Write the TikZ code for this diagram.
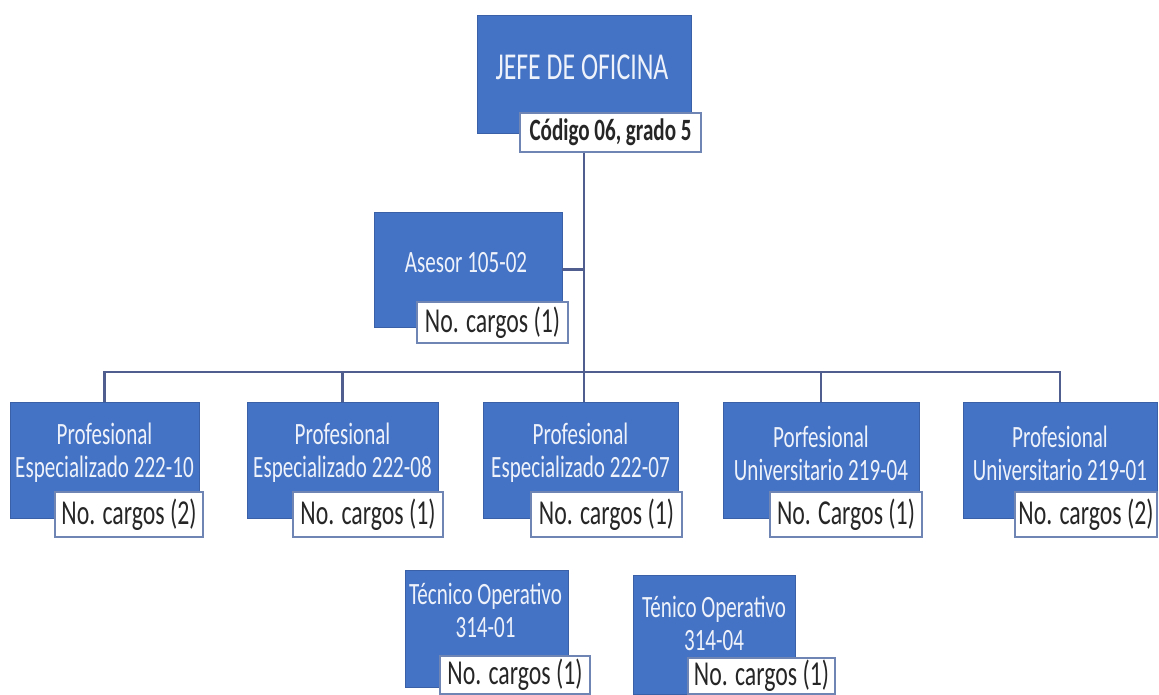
\documentclass[tikz,border=0pt]{standalone}
\usepackage{fontspec}
\setmainfont{Carlito}[FakeStretch=0.68]
\definecolor{boxblue}{HTML}{4472C4}
\definecolor{tagedge}{HTML}{6F86B5}
\definecolor{linecol}{HTML}{4F5E8E}
\definecolor{boxtext}{HTML}{EEF2FA}
\begin{document}
\begin{tikzpicture}[x=1pt,y=-1pt,
  box/.style={fill=boxblue, draw=boxblue!85!black, line width=0.6, inner sep=0},
  btext/.style={text=boxtext, font=\fontsize{31}{33}\selectfont, align=center, inner sep=0},
  tag/.style={fill=white, draw=tagedge, line width=1.2, inner sep=0, font=\fontsize{35}{37}\selectfont, text=black!85},
  conn/.style={draw=linecol, line width=2.5}]
\useasboundingbox (0,0) rectangle (1159,694);
% boxes
\node[box, minimum width=214, minimum height=118] (jefe) at (584,74) {};
\node[btext, font=\fontsize{38}{40}\selectfont] (jefeT) at (582,67) {JEFE DE OFICINA};
\node[tag, minimum width=181, minimum height=39, font=\bfseries\fontsize{31}{33}\selectfont] (jefeL) at (610.5,132.5) {Código 06, grado 5};

\node[box, minimum width=188, minimum height=115] (ases) at (468,269.5) {};
\node[btext] (asesT) at (466,263) {Asesor 105-02};
\node[tag, minimum width=151, minimum height=41] (asesL) at (492.5,322.5) {No. cargos (1)};

\node[box, minimum width=189, minimum height=116] (p1) at (104.5,460) {};
\node[btext] (p1T) at (104.5,453) {Profesional\\Especializado 222-10};
\node[tag, minimum width=148, minimum height=45] (p1L) at (129,514.5) {No. cargos (2)};

\node[box, minimum width=191, minimum height=116] (p2) at (342.5,460) {};
\node[btext] (p2T) at (342.5,453) {Profesional\\Especializado 222-08};
\node[tag, minimum width=150, minimum height=45] (p2L) at (368,514.5) {No. cargos (1)};

\node[box, minimum width=195, minimum height=116] (p3) at (580.5,460) {};
\node[btext] (p3T) at (580.5,453) {Profesional\\Especializado 222-07};
\node[tag, minimum width=151, minimum height=45] (p3L) at (606.5,514.5) {No. cargos (1)};

\node[box, minimum width=196, minimum height=116] (p4) at (821,460) {};
\node[btext] (p4T) at (821,453) {Porfesional\\Universitario 219-04};
\node[tag, minimum width=152, minimum height=45] (p4L) at (846,514.5) {No. Cargos (1)};

\node[box, minimum width=194, minimum height=116] (p5) at (1060,460) {};
\node[btext] (p5T) at (1060,453) {Profesional\\Universitario 219-01};
\node[tag, minimum width=142, minimum height=45] (p5L) at (1086,514.5) {No. cargos (2)};

\node[box, minimum width=163, minimum height=117] (ta) at (486.5,628.5) {};
\node[btext] (taT) at (485.5,610) {Técnico Operativo\\314-01};
\node[tag, minimum width=150, minimum height=38] (taL) at (515,675) {No. cargos (1)};

\node[box, minimum width=162, minimum height=119] (tb) at (714,634.5) {};
\node[btext] (tbT) at (714,623) {Ténico Operativo\\314-04};
\node[tag, minimum width=147, minimum height=36] (tbL) at (761.5,676) {No. cargos (1)};

% connectors
\coordinate (hub) at (584,372);
\draw[conn] (jefe.south |- jefeL.south) -- (hub);
\draw[conn] (ases.east) -- (ases.east -| hub);
\draw[conn] (hub) -| (p1.north);
\draw[conn] (hub) -| (p2.north);
\draw[conn] (hub) -- (p3.north -| hub);
\draw[conn] (hub) -| (p4.north);
\draw[conn] (hub) -| (p5.north);
\end{tikzpicture}
\end{document}
